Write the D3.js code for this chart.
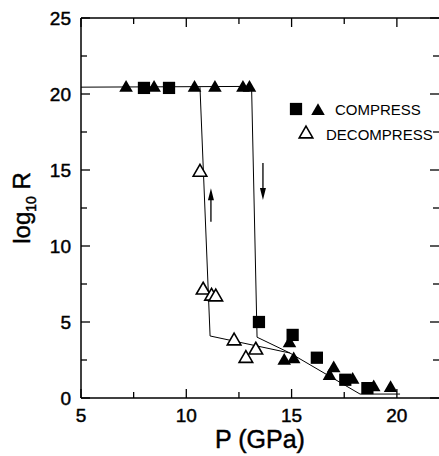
<!DOCTYPE html>
<html>
<head>
<meta charset="utf-8">
<script src="https://cdn.jsdelivr.net/npm/d3@7/dist/d3.min.js"></script>
<style>
  body { margin: 0; background: #fff; }
  text { font-family: "Liberation Sans", Arial, sans-serif; fill: #000; }
  .heavy { stroke: #000; stroke-width: 0.45px; }
</style>
</head>
<body>
<svg id="chart"></svg>
<script>
// compress: filled squares
const sqP = [7.99, 9.18, 13.45, 15.05, 16.2, 17.55, 18.6];
const sqR = [20.4, 20.4, 5.0, 4.15, 2.65, 1.2, 0.65];
// compress: filled triangles
const triP = [7.14, 8.47, 10.39, 11.36, 12.69, 13.0, 14.9, 14.65, 15.1, 17.0, 16.8, 17.9, 18.9, 19.7];
const triR = [20.4, 20.4, 20.4, 20.4, 20.4, 20.4, 3.6, 2.45, 2.55, 1.95, 1.45, 1.2, 0.7, 0.65];
// decompress: open triangles
const openP = [10.65, 10.8, 11.2, 11.4, 12.27, 12.83, 13.3];
const openR = [14.85, 7.1, 6.7, 6.65, 3.75, 2.6, 3.15];

// guide lines
const compLineP = [5, 13.1, 13.36, 14.92, 18.25, 20.15];
const compLineR = [20.45, 20.5, 4.0, 2.96, 0.26, 0.26];
const decLineP = [10.65, 11.13, 14.92];
const decLineR = [20.45, 4.08, 2.96];

const xTicks = [5, 10, 15, 20];
const yTicks = [0, 5, 10, 15, 20, 25];

const W = 439, H = 456;
const svg = d3.select("#chart").attr("width", W).attr("height", H);

const x = d3.scaleLinear().domain([5, 22]).range([81, 439]);
const y = d3.scaleLinear().domain([0, 25]).range([398, 18]);

// frame
const frame = svg.append("g").attr("stroke", "#000").attr("stroke-width", 1.5).attr("fill", "none");
frame.append("line").attr("x1", x(5)).attr("x2", x(5)).attr("y1", y(0)).attr("y2", y(25));
frame.append("line").attr("x1", x(5)).attr("x2", x(22)).attr("y1", y(0)).attr("y2", y(0));
frame.append("line").attr("x1", x(5)).attr("x2", x(22)).attr("y1", y(25)).attr("y2", y(25));

// inward ticks every 2.5
const xt = d3.range(5, 22.01, 2.5);
const yt = d3.range(0, 25.01, 2.5);
const tk = svg.append("g").attr("stroke", "#000").attr("stroke-width", 1.3);
xt.forEach(v => {
  const len = v % 5 === 0 ? 9 : 6;
  tk.append("line").attr("x1", x(v)).attr("x2", x(v)).attr("y1", y(0)).attr("y2", y(0) - len);
  tk.append("line").attr("x1", x(v)).attr("x2", x(v)).attr("y1", y(25)).attr("y2", y(25) + len);
});
yt.forEach(v => {
  const len = v % 5 === 0 ? 9 : 6;
  tk.append("line").attr("x1", x(5)).attr("x2", x(5) + len).attr("y1", y(v)).attr("y2", y(v));
  tk.append("line").attr("x1", x(22)).attr("x2", x(22) - len).attr("y1", y(v)).attr("y2", y(v));
});

// tick labels
svg.append("g").selectAll("text").data(xTicks).join("text")
  .attr("class", "heavy")
  .attr("x", d => x(d)).attr("y", y(0) + 24)
  .attr("text-anchor", "middle").style("font-size", "19px")
  .text(d => d);
svg.append("g").selectAll("text").data(yTicks).join("text")
  .attr("class", "heavy")
  .attr("x", x(5) - 10).attr("y", d => y(d) + 7)
  .attr("text-anchor", "end").style("font-size", "19px")
  .text(d => d);

// axis titles
svg.append("text").attr("class", "heavy").attr("x", (x(5) + x(22)) / 2).attr("y", 448)
  .attr("text-anchor", "middle").style("font-size", "25px").text("P (GPa)");
const yl = svg.append("text").attr("class", "heavy")
  .attr("transform", `translate(30, ${(y(0) + y(25)) / 2}) rotate(-90)`)
  .attr("text-anchor", "middle").style("font-size", "24px");
yl.append("tspan").text("log");
yl.append("tspan").attr("dy", 6).style("font-size", "14px").text("10");
yl.append("tspan").attr("dy", -6).text(" R");

// guide lines
const line = d3.line().x(d => x(d[0])).y(d => y(d[1]));
svg.append("path").datum(d3.zip(compLineP, compLineR)).attr("d", line)
  .attr("fill", "none").attr("stroke", "#000").attr("stroke-width", 1);
svg.append("path").datum(d3.zip(decLineP, decLineR)).attr("d", line)
  .attr("fill", "none").attr("stroke", "#000").attr("stroke-width", 1);

// markers
const tri = d3.symbol().type(d3.symbolTriangle).size(80);
const sq = d3.symbol().type(d3.symbolSquare).size(150);

svg.append("g").selectAll("path").data(d3.zip(sqP, sqR)).join("path")
  .attr("d", sq).attr("transform", d => `translate(${x(d[0])},${y(d[1])})`)
  .attr("fill", "#000");
svg.append("g").selectAll("path").data(d3.zip(triP, triR)).join("path")
  .attr("d", tri).attr("transform", d => `translate(${x(d[0])},${y(d[1])})`)
  .attr("fill", "#000");
svg.append("g").selectAll("path").data(d3.zip(openP, openR)).join("path")
  .attr("d", tri).attr("transform", d => `translate(${x(d[0])},${y(d[1])})`)
  .attr("fill", "#fff").attr("stroke", "#000").attr("stroke-width", 1.6);

// arrows
const arrows = [
  { p: 13.64, from: 15.46, to: 13.03 },
  { p: 11.17, from: 11.6, to: 13.8 }
];
arrows.forEach(a => {
  const dir = a.to < a.from ? 1 : -1;
  const tipY = y(a.to);
  svg.append("line").attr("x1", x(a.p)).attr("x2", x(a.p))
    .attr("y1", y(a.from)).attr("y2", tipY - dir * 6)
    .attr("stroke", "#000").attr("stroke-width", 1.3);
  svg.append("path")
    .attr("d", `M${x(a.p)},${tipY} L${x(a.p) - 3},${tipY - dir * 12} L${x(a.p) + 3},${tipY - dir * 12} Z`)
    .attr("fill", "#000");
});

// legend
const lg = svg.append("g");
lg.append("path").attr("d", sq).attr("transform", "translate(296,109)").attr("fill", "#000");
lg.append("path").attr("d", tri).attr("transform", "translate(318,111)").attr("fill", "#000");
lg.append("text").attr("x", 335).attr("y", 115).style("font-size", "15px").text("COMPRESS");
lg.append("path").attr("d", tri).attr("transform", "translate(306,134)")
  .attr("fill", "#fff").attr("stroke", "#000").attr("stroke-width", 1.6);
lg.append("text").attr("x", 326).attr("y", 140).style("font-size", "15px").text("DECOMPRESS");
</script>
</body>
</html>
